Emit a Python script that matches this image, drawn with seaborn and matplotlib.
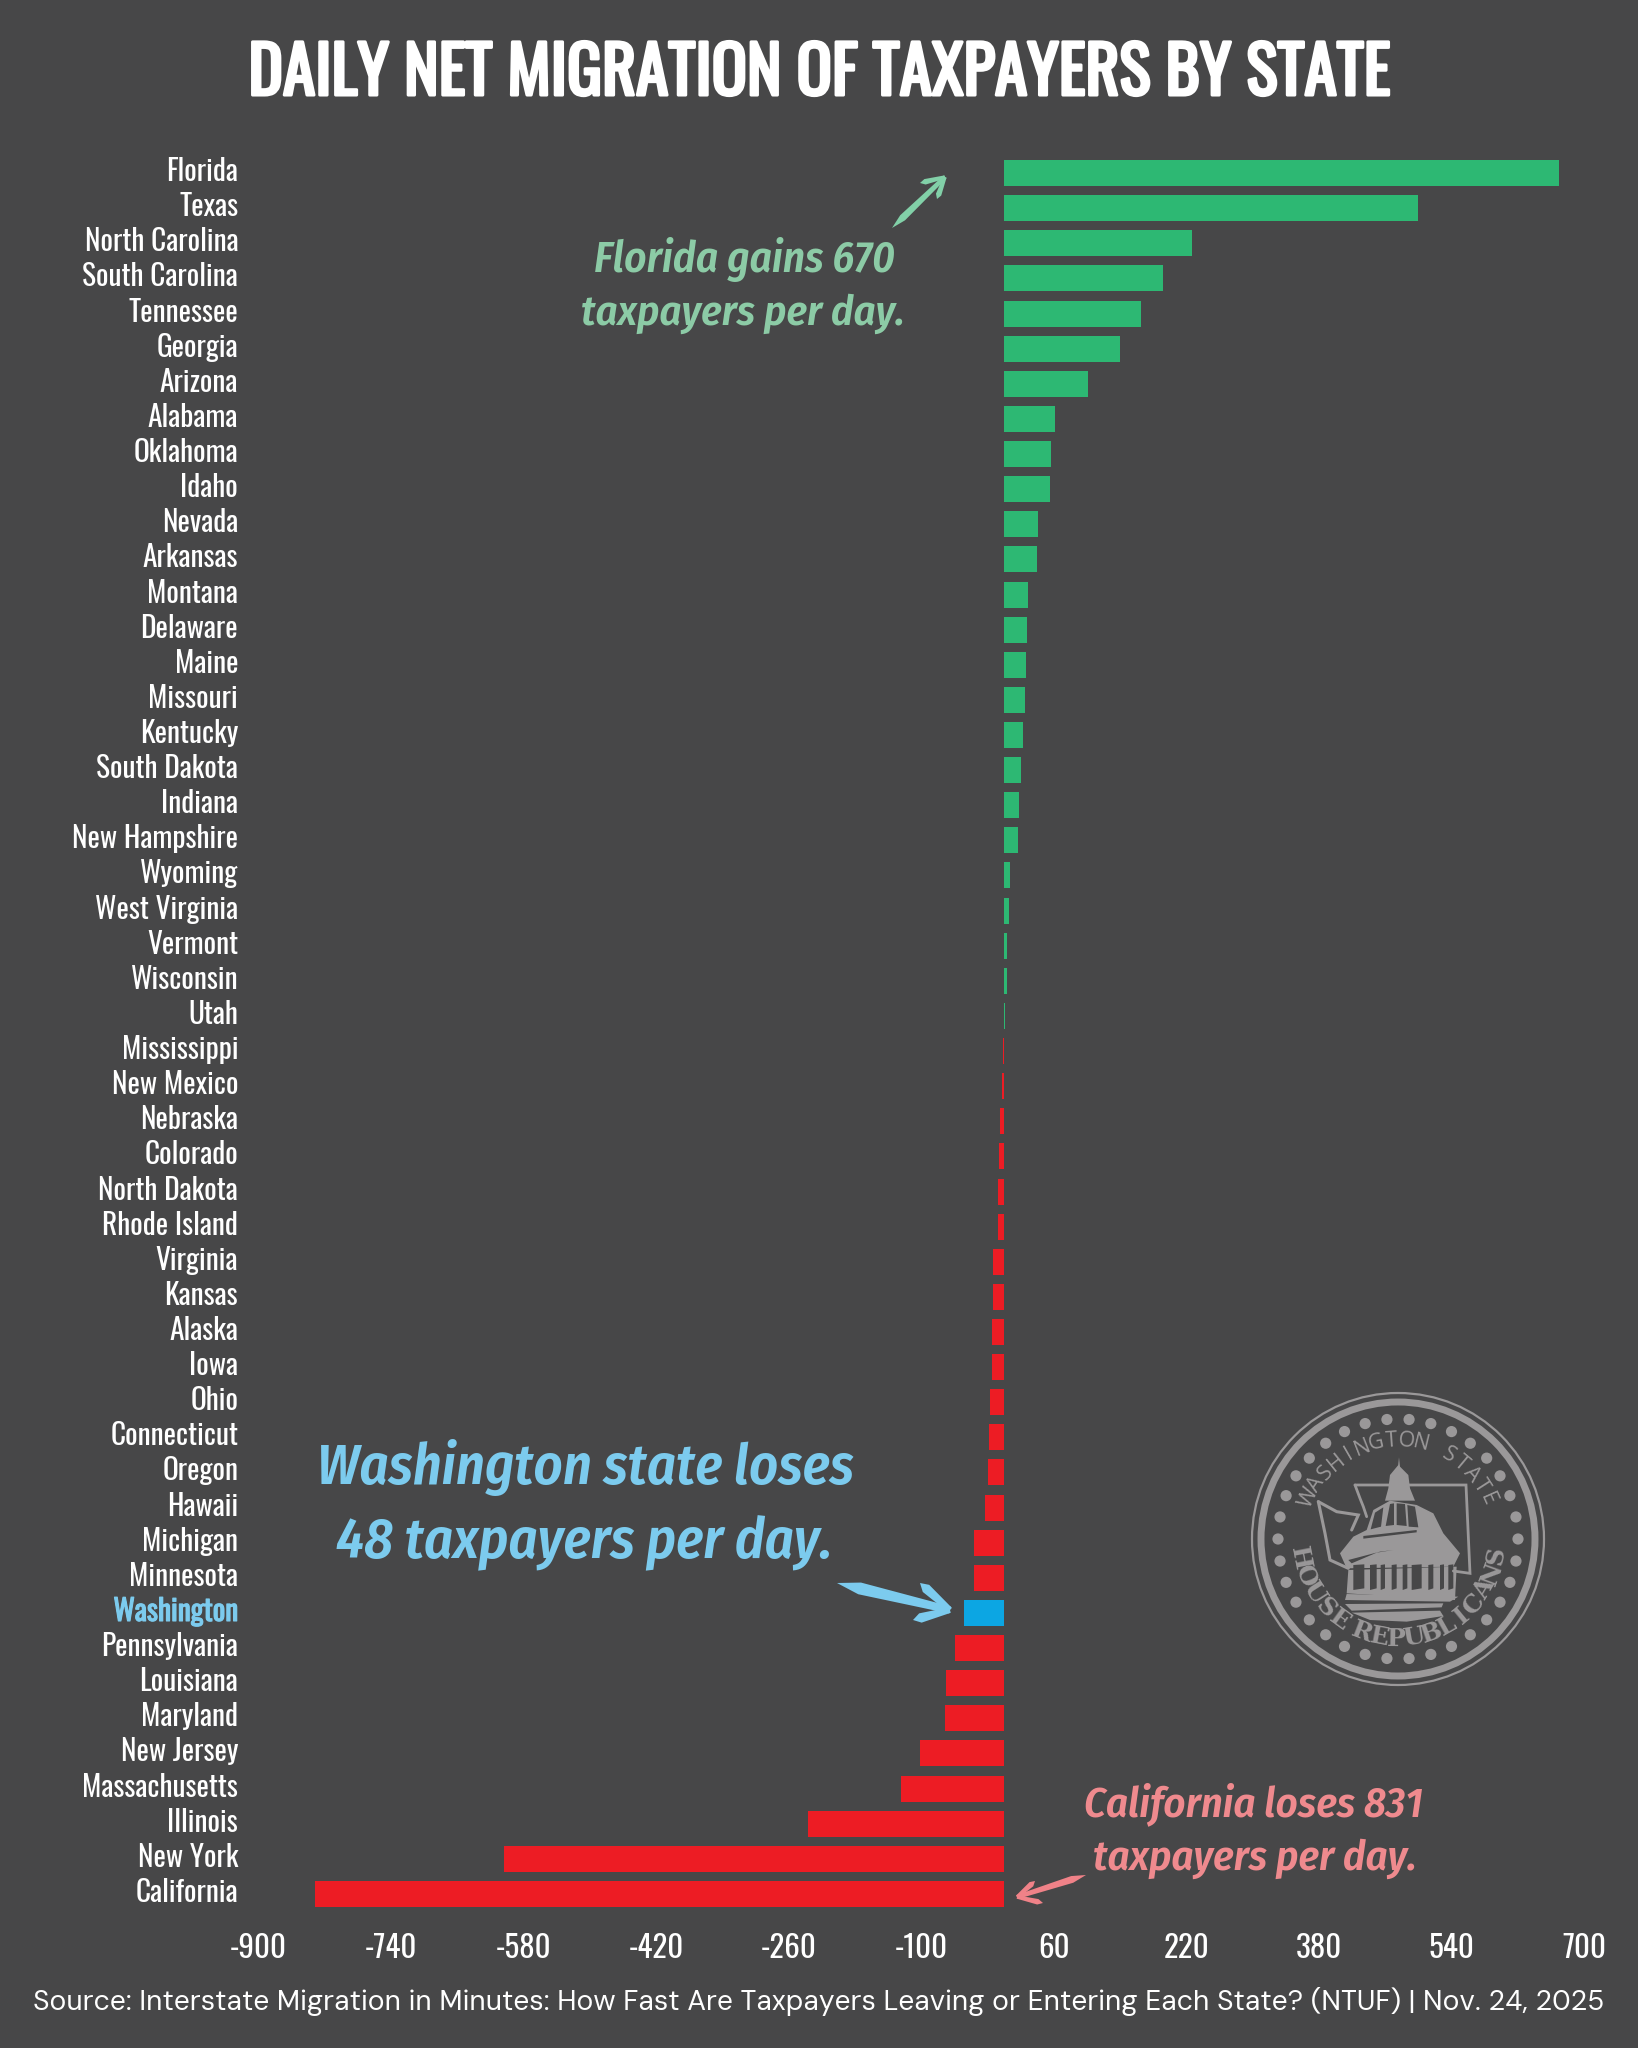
import numpy as np
import pandas as pd
import matplotlib
matplotlib.use("Agg")
import matplotlib.pyplot as plt
import matplotlib.patheffects as pe
from matplotlib.patches import Circle, Polygon
from matplotlib.transforms import ScaledTranslation
import seaborn as sns

states = ["Florida","Texas","North Carolina","South Carolina","Tennessee","Georgia","Arizona","Alabama","Oklahoma","Idaho",
          "Nevada","Arkansas","Montana","Delaware","Maine","Missouri","Kentucky","South Dakota","Indiana","New Hampshire",
          "Wyoming","West Virginia","Vermont","Wisconsin","Utah","Mississippi","New Mexico","Nebraska","Colorado","North Dakota",
          "Rhode Island","Virginia","Kansas","Alaska","Iowa","Ohio","Connecticut","Oregon","Hawaii","Michigan",
          "Minnesota","Washington","Pennsylvania","Louisiana","Maryland","New Jersey","Massachusetts","Illinois","New York","California"]
values = [670,499,227,192,165,140,101,61,57,55,
          41,40,29,27,26,25,23,20,18,17,
          7,6,4,3,1,-2,-3,-5,-6,-7,
          -8,-14,-14,-15,-15,-17,-18,-19,-23,-36,
          -37,-48,-59,-70,-72,-102,-124,-237,-603,-831]
x_ticks = [-900,-740,-580,-420,-260,-100,60,220,380,540,700]

BG = "#474748"; GREEN = "#2DB873"; RED = "#ED1C24"; BLUE = "#0CA6E3"
L_BLUE = "#7CCBEE"; L_GREEN = "#8CCBA6"; PINK = "#EF8A8E"; SEAL = "#9A9899"
NARROW = ["Oswald", "Open Sans", "DejaVu Sans"]
NOTE = ["Fira Sans Condensed", "Open Sans", "DejaVu Sans"]
SRC = ["DM Sans", "Lato", "DejaVu Sans"]

sns.set_theme(style="dark")
W, H = 1638, 2048
fig = plt.figure(figsize=(W/100, H/100), dpi=100, facecolor=BG)

def px_axes(l, t, r, b):
    return fig.add_axes([l/W, 1-b/H, (r-l)/W, (b-t)/H])

ax = px_axes(258.3, 152, 1584.3, 1915)
ax.set_facecolor("none")
df = pd.DataFrame({"state": states, "value": values})
df["group"] = ["wa" if s == "Washington" else ("gain" if v > 0 else "loss") for s, v in zip(states, values)]
sns.barplot(data=df, x="value", y="state", hue="group", order=states, dodge=False, width=0.74,
            palette={"gain": GREEN, "loss": RED, "wa": BLUE}, legend=False, saturation=1, ax=ax, linewidth=0)
ax.set_xlim(-900, 700)
ax.set_ylim(49.6, -0.6)
ax.set_xticks(x_ticks)
ax.set_xlabel(""); ax.set_ylabel("")
ax.grid(False)
for s in ax.spines.values():
    s.set_visible(False)
ax.tick_params(axis="y", length=0, pad=14.5, labelcolor="white")
ax.tick_params(axis="x", length=0, pad=13, labelcolor="white")
up = ScaledTranslation(0, 4/100, fig.dpi_scale_trans)
for t in ax.get_yticklabels():
    t.set_fontfamily(NARROW); t.set_fontsize(21.2)
    t.set_transform(t.get_transform() + up)
    if t.get_text() == "Washington":
        t.set_color(L_BLUE)
        t.set_path_effects([pe.withStroke(linewidth=0.8, foreground=L_BLUE)])
ax.set_xticklabels([str(v) for v in x_ticks], fontfamily=NARROW, fontsize=22.4, color="white")

ov = fig.add_axes([0, 0, 1, 1], zorder=5)
ov.set_xlim(0, W); ov.set_ylim(H, 0); ov.axis("off")

ov.text(819, 74.5, "DAILY NET MIGRATION OF TAXPAYERS BY STATE", color="white", fontsize=47.2,
        family=NARROW, ha="center", va="center",
        path_effects=[pe.withStroke(linewidth=2.2, foreground="white")])
ov.text(819, 2002, "Source: Interstate Migration in Minutes: How Fast Are Taxpayers Leaving or Entering Each State? (NTUF) | Nov. 24, 2025",
        color="white", fontsize=20.32, family=SRC, ha="center", va="center")

def note(x, y, s, color, size):
    ov.text(x, y, s, color=color, fontsize=size, fontstyle="italic", fontweight=600, family=NOTE, ha="center", va="center")

note(744, 259, "Florida gains 670", L_GREEN, 31)
note(743, 314, "taxpayers per day.", L_GREEN, 30.6)
note(585, 1468, "Washington state loses", L_BLUE, 40.4)
note(584, 1543, "48 taxpayers per day.", L_BLUE, 40.4)
note(1254, 1804, "California loses 831", PINK, 30.6)
note(1255, 1859, "taxpayers per day.", PINK, 30.6)

def stroke(p0, p1, w, color):
    p0, p1 = np.array(p0, float), np.array(p1, float)
    d = (p1-p0)/np.hypot(*(p1-p0)); n = np.array([-d[1], d[0]])
    L = np.hypot(*(p1-p0))
    m = p0 + d*L*0.2
    ov.add_patch(Polygon([p0, m+n*w/2, p1+n*w*0.3, p1-n*w*0.3, m-n*w/2], closed=True, color=color, lw=0))

def brush_arrow(tail, tip, barb1, barb2, color, w):
    stroke(tail, tip, w, color)
    stroke(barb1, tip, w*0.8, color)
    stroke(barb2, tip, w*0.8, color)

brush_arrow((892,228), (945,177), (920,183), (937,199), "#82D0A8", 7)
brush_arrow((837,1583), (950,1610), (920,1583), (913,1620), L_BLUE, 12)
brush_arrow((1086,1875), (1017,1897), (1035,1881), (1043,1903), "#F08288", 7)

# Seal, drawn in the seal's own local grid
cx, cy = 1398, 1539
def Z(pts):
    return [(1220+x/3, 1370+y/3) for x, y in pts]
ov.add_patch(Circle((cx, cy), 146, fill=False, ec=SEAL, lw=1.6))
ov.add_patch(Circle((cx, cy), 137, fill=False, ec=SEAL, lw=5))
for a in np.deg2rad(np.arange(0, 360, 360/34)):
    ov.add_patch(Circle((cx+120*np.cos(a), cy+120*np.sin(a)), 5.6, color=SEAL, lw=0))

def arc_text(s, r, start, end, size, weight, family, bottom=False):
    for ch, a in zip(s, np.linspace(start, end, len(s))):
        ar = np.deg2rad(a)
        x, y = cx+r*np.sin(ar), cy-r*np.cos(ar)
        rot = -a + (180 if bottom else 0)
        ov.text(x, y, ch, color=SEAL, fontsize=size, fontweight=weight, rotation=rot, rotation_mode="anchor",
                ha="center", va="center", family=family)

arc_text("WASHINGTON STATE", 98, -65, 66, 15.5, "normal", ["Open Sans", "DejaVu Sans"])
arc_text("HOUSE", 100, 259, 216, 18, "bold", "DejaVu Serif", bottom=True)
arc_text("REPUBLICANS", 100, 201, 100, 18, "bold", "DejaVu Serif", bottom=True)

def zline(pts, lw=2):
    z = Z(pts)
    ov.plot([p[0] for p in z], [p[1] for p in z], color=SEAL, lw=lw, solid_joinstyle="miter")
def zpoly(pts, color=SEAL):
    ov.add_patch(Polygon(Z(pts), closed=True, color=color, lw=0))

zline([(405,345),(738,345),(750,610),(700,603)])
zline([(405,345),(420,385),(430,410),(440,440)])
zline([(295,395),(350,425),(415,435),(395,480)], 2.2)
zline([(295,395),(315,490),(330,570),(385,595)], 2.2)

zpoly([(537,262),(541,300),(533,300)])
zpoly([(510,315),(535,285),(565,315),(570,355),(585,392),(495,392),(505,355)])
zpoly([(440,480),(460,420),(510,392),(590,405),(640,430),(670,490),(720,550),(700,590),(380,595),(360,550),(400,500)])
for pts in [[(452,478),(465,428),(490,412),(483,470)],
            [(497,468),(510,402),(522,400),(522,465)],
            [(530,465),(530,400),(555,402),(560,468)],
            [(566,470),(562,405),(585,410),(595,472)]]:
    zpoly(pts, BG)
zpoly([(385,570),(480,545),(520,540),(470,548),(395,580)], BG)
zpoly([(430,498),(590,480),(590,487),(430,506)], BG)
zpoly([(385,600),(710,590),(705,690),(380,670)])
for x0, x1 in [(400,433),(450,470),(482,495),(515,530),(548,562),(575,605),(625,640),(660,672),(685,700)]:
    zpoly([(x0,585),(x1,583),(x1,655),(x0,660)], BG)
zpoly([(380,672),(715,680),(690,695),(375,690)])
zpoly([(490,660),(630,660),(630,668),(490,668)])
zpoly([(375,702),(670,700),(665,712),(395,722)])
zpoly([(395,728),(660,722),(670,738),(560,755),(450,750)])

fig.savefig("out.png", dpi=100, facecolor=BG)
